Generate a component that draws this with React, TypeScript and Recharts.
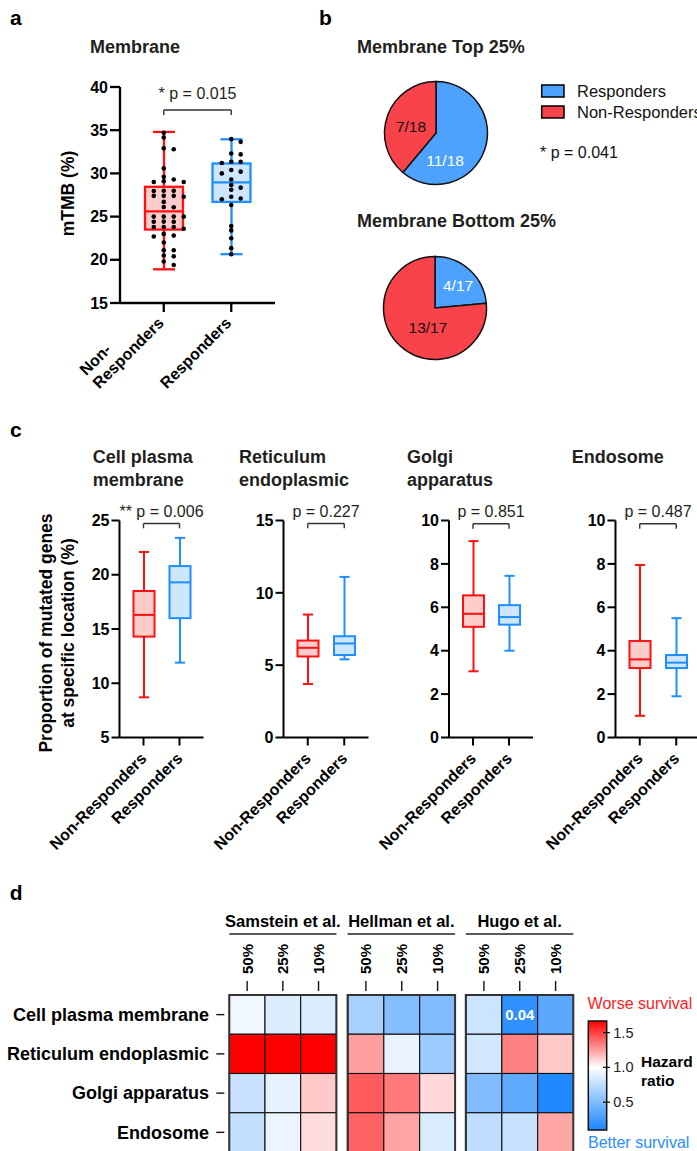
import React from 'react';
import {
  ComposedChart,
  Bar,
  Scatter,
  ScatterChart,
  XAxis,
  YAxis,
  ReferenceLine,
  PieChart,
  Pie,
  Cell,
} from 'recharts';

const FONT = "'Liberation Sans', Arial, Helvetica, sans-serif";
const INK = '#231f20';
const RED = '#ff1111';
const RED_FILL = '#ffcccc';
const BLUE = '#1f8fff';
const BLUE_FILL = '#cfe6ff';
const PIE_RED = '#f9434a';
const PIE_BLUE = '#4da2ff';

const groups = ['Non-Responders', 'Responders'];

// a: membrane mTMB (%) per patient
const nonResponderMTMB = [
  34.7, 34.16, 32.8, 30.58, 29.3, 27.97, 27.4, 26.08, 25.0, 24.42, 23.8, 22.7, 22.0, 20.4, 19.8, 19.4,
  32.9, 29.6, 29.1, 28.0, 27.3, 26.1, 25.0, 24.4, 23.8, 22.8, 20.5,
  29.0, 28.0, 27.4, 26.7, 25.0, 24.4, 23.0, 25.0, 23.8, 29.0, 27.4, 23.6, 21.1, 21.1,
];
const responderMTMB = [
  33.97, 33.65, 32.3, 32.2, 31.35, 31.2, 31.35, 30.4, 30.2, 30.0, 29.3, 28.65, 28.35, 28.1,
  27.3, 27.1, 27.0, 26.35, 23.9, 23.4, 22.5, 21.35, 20.65,
];
const membraneBoxes = [
  { group: 'Non-Responders', min: 18.9, q1: 23.5, median: 25.6, q3: 28.45, max: 34.8 },
  { group: 'Responders', min: 20.65, q1: 26.7, median: 28.95, q3: 31.15, max: 33.95 },
];

// b: responders among membrane quartiles
const topQuartile = [
  { name: 'Responders', value: 11 },
  { name: 'Non-Responders', value: 7 },
];
const bottomQuartile = [
  { name: 'Responders', value: 4 },
  { name: 'Non-Responders', value: 13 },
];

// c: proportion of mutated genes at specific location (%)
const cellPlasmaBoxes = [
  { group: 'Non-Responders', min: 8.7, q1: 14.3, median: 16.3, q3: 18.5, max: 22.1 },
  { group: 'Responders', min: 11.9, q1: 16.0, median: 19.3, q3: 20.8, max: 23.4 },
];
const reticulumBoxes = [
  { group: 'Non-Responders', min: 3.7, q1: 5.6, median: 6.2, q3: 6.7, max: 8.5 },
  { group: 'Responders', min: 5.4, q1: 5.7, median: 6.5, q3: 7.0, max: 11.1 },
];
const golgiBoxes = [
  { group: 'Non-Responders', min: 3.05, q1: 5.1, median: 5.7, q3: 6.55, max: 9.05 },
  { group: 'Responders', min: 4.0, q1: 5.2, median: 5.55, q3: 6.1, max: 7.45 },
];
const endosomeBoxes = [
  { group: 'Non-Responders', min: 1.0, q1: 3.2, median: 3.6, q3: 4.45, max: 7.95 },
  { group: 'Responders', min: 1.9, q1: 3.2, median: 3.45, q3: 3.8, max: 5.5 },
];

// d: hazard ratios
const locations = ['Cell plasma membrane', 'Reticulum endoplasmic', 'Golgi apparatus', 'Endosome'];
const cutoffs = ['50%', '25%', '10%'];
const samsteinHR = [
  [0.95, 0.86, 0.86],
  [1.72, 1.69, 1.75],
  [0.78, 0.9, 1.14],
  [0.77, 0.92, 1.09],
];
const hellmanHR = [
  [0.66, 0.52, 0.5],
  [1.25, 0.91, 0.61],
  [1.43, 1.35, 1.1],
  [1.41, 1.24, 0.85],
];
const hugoHR = [
  [0.8, 0.18, 0.35],
  [0.82, 1.33, 1.14],
  [0.5, 0.37, 0.12],
  [0.75, 0.78, 1.23],
];
const hugoPValues = [{ location: 'Cell plasma membrane', cutoff: '25%', p: '0.04' }];

const HR_MIN = 0.1;
const HR_MAX = 1.667;
const HR_RED = [255, 0, 0];
const HR_BLUE = [26, 134, 255];

function hrColor(v: number) {
  const up = v >= 1;
  const t = up ? Math.min((v - 1) / (HR_MAX - 1), 1) : Math.min((1 - v) / (1 - HR_MIN), 1);
  const c = up ? HR_RED : HR_BLUE;
  return `rgb(${c.map((ch) => Math.round(255 + (ch - 255) * t)).join(',')})`;
}

// simple beeswarm: nearest free column
function swarm(values: number[], center: number, step: number, minGap: number) {
  const placed: { col: number; v: number }[] = [];
  const order = [0, 1, -1, 2, -2, 3, -3];
  return [...values]
    .sort((a, b) => b - a)
    .map((v) => {
      const col = order.find((c) => !placed.some((p) => p.col === c && Math.abs(p.v - v) < minGap)) ?? 0;
      placed.push({ col, v });
      return { x: center + col * step, y: v };
    });
}

const BOLD_W: Record<string, number> = { R: 0.722, e: 0.556, s: 0.556, p: 0.611, o: 0.611, n: 0.611, d: 0.611, r: 0.389 };
const boldWidth = (s: string, size: number) => s.split('').reduce((w, ch) => w + (BOLD_W[ch] ?? 0.6), 0) * size;

const RotTick = (props: any) => {
  const { x, y, payload, offX, offY, split } = props;
  const label = String(payload.value);
  const fs = 16;
  const st = { fontFamily: FONT, fontSize: fs, fontWeight: 700, fill: '#000' };
  const cut = split ? label.indexOf('-') : -1;
  return (
    <g transform={`translate(${x + offX},${y + offY}) rotate(-45)`}>
      {cut < 0 ? (
        <text textAnchor="end" {...st}>{label}</text>
      ) : (
        <>
          <text x={-boldWidth(label.slice(cut + 1), fs)} y={-18.4} textAnchor="start" {...st}>
            {label.slice(0, cut + 1)}
          </text>
          <text textAnchor="end" {...st}>{label.slice(cut + 1)}</text>
        </>
      )}
    </g>
  );
};

const boxShape = (capRatio: number, sw: number) => (props: any) => {
  const { x, y, width, height, payload } = props;
  if (!payload) return null;
  const { min, q1, median, q3, max } = payload;
  const top = Math.min(y, y + height);
  const span = Math.abs(height);
  const py = (v: number) => top + ((max - v) / (max - min)) * span;
  const resp = payload.group === 'Responders';
  const stroke = resp ? BLUE : RED;
  const fill = resp ? BLUE_FILL : RED_FILL;
  const cx = x + width / 2;
  const half = (width * capRatio) / 2;
  return (
    <g>
      <line x1={cx} x2={cx} y1={py(max)} y2={py(q3)} stroke={stroke} strokeWidth={sw} />
      <line x1={cx} x2={cx} y1={py(q1)} y2={py(min)} stroke={stroke} strokeWidth={sw} />
      <line x1={cx - half} x2={cx + half} y1={py(max)} y2={py(max)} stroke={stroke} strokeWidth={sw} />
      <line x1={cx - half} x2={cx + half} y1={py(min)} y2={py(min)} stroke={stroke} strokeWidth={sw} />
      <rect x={x} y={py(q3)} width={width} height={py(q1) - py(q3)} fill={fill} stroke={stroke} strokeWidth={sw} />
      <line x1={x} x2={x + width} y1={py(median)} y2={py(median)} stroke={stroke} strokeWidth={sw} />
    </g>
  );
};

const Dot = (p: any) => <circle cx={p.cx} cy={p.cy} r={2.3} fill="#000" />;

const BoxChart = (props: any) => {
  const {
    left, top, width, height, marginTop, yAxisWidth, xAxisHeight, data, domain, ticks,
    barSize, capRatio, sw, xPad, bracket, dots, split, offX, offY, ytick, xtick,
  } = props;
  const axis = { stroke: '#000', strokeWidth: sw };
  const bStroke = { stroke: '#333', strokeWidth: 1.4 };
  return (
    <div style={{ position: 'absolute', left, top }}>
      <ComposedChart width={width} height={height} data={data} margin={{ top: marginTop, right: 0, bottom: 0, left: 0 }}>
        <XAxis
          dataKey="group"
          type="category"
          padding={{ left: xPad, right: xPad }}
          height={xAxisHeight}
          axisLine={axis}
          tickLine={axis}
          tickSize={xtick}
          interval={0}
          tick={(p: any) => <RotTick {...p} offX={offX} offY={offY} split={split} />}
        />
        {dots && <XAxis xAxisId="jit" type="number" dataKey="x" domain={[0, 2]} padding={{ left: xPad, right: xPad }} hide />}
        <YAxis
          type="number"
          domain={domain}
          ticks={ticks}
          width={yAxisWidth}
          axisLine={axis}
          tickLine={axis}
          tickSize={ytick}
          tickMargin={2}
          interval={0}
          tick={{ fill: '#000', fontSize: 16, fontWeight: 700, fontFamily: FONT }}
        />
        <Bar dataKey={(d: any) => [d.min, d.max]} barSize={barSize} shape={boxShape(capRatio, sw)} isAnimationActive={false} />
        {dots && <Scatter xAxisId="jit" data={dots} dataKey="y" shape={Dot} isAnimationActive={false} />}
        <ReferenceLine
          segment={[{ x: groups[0], y: bracket.y }, { x: groups[1], y: bracket.y }]}
          {...bStroke}
          label={{ value: bracket.text, position: 'top', offset: bracket.offset, fill: INK, fontSize: 16, fontFamily: FONT }}
        />
        <ReferenceLine segment={[{ x: groups[0], y: bracket.y }, { x: groups[0], y: bracket.leg }]} {...bStroke} />
        <ReferenceLine segment={[{ x: groups[1], y: bracket.y }, { x: groups[1], y: bracket.leg }]} {...bStroke} />
      </ComposedChart>
    </div>
  );
};

const PieBlock = ({ left, top, data, placement }: any) => {
  const total = data.reduce((s: number, d: any) => s + d.value, 0);
  const renderLabel = (p: any) => {
    const { cx, cy, outerRadius, index, value } = p;
    const { angle, r } = placement[index];
    const rad = (angle * Math.PI) / 180;
    return (
      <text
        x={cx + outerRadius * r * Math.cos(rad)}
        y={cy - outerRadius * r * Math.sin(rad)}
        textAnchor="middle"
        dominantBaseline="central"
        fill={data[index].name === 'Responders' ? '#fff' : '#111'}
        fontFamily={FONT}
        fontSize={15.5}
      >
        {`${value}/${total}`}
      </text>
    );
  };
  return (
    <div style={{ position: 'absolute', left, top }}>
      <PieChart width={112} height={112} margin={{ top: 0, right: 0, bottom: 0, left: 0 }}>
        <Pie
          data={data}
          dataKey="value"
          nameKey="name"
          cx="50%"
          cy="50%"
          outerRadius={51.5}
          startAngle={90}
          endAngle={-270}
          stroke="#111"
          strokeWidth={1.5}
          labelLine={false}
          label={renderLabel}
          isAnimationActive={false}
        >
          {data.map((d: any) => (
            <Cell key={d.name} fill={d.name === 'Responders' ? PIE_BLUE : PIE_RED} />
          ))}
        </Pie>
      </PieChart>
    </div>
  );
};

const HEAT_TOP = 890;
const HEAT_AXIS_H = 105;
const HEAT_PLOT_H = 157;
const heatGroups = [
  { title: 'Samstein et al.', values: samsteinHR, notes: [], left: 0, axisW: 229.3, plotW: 107.1 },
  { title: 'Hellman et al.', values: hellmanHR, notes: [], left: 347.6, axisW: 0, plotW: 107.5 },
  { title: 'Hugo et al.', values: hugoHR, notes: hugoPValues, left: 465.8, axisW: 0, plotW: 107.5 },
];

const HeatColTick = (p: any) => {
  const { x, y, payload } = p;
  const label = cutoffs[Math.floor(payload.value)];
  return (
    <g>
      <line x1={x} x2={x} y1={y - 4} y2={y - 14} stroke="#111" strokeWidth={1.4} />
      <text transform={`translate(${x + 5.5},${y - 21}) rotate(-90)`} textAnchor="start" fontFamily={FONT} fontSize={15} fontWeight={700} fill="#000">
        {label}
      </text>
    </g>
  );
};

const HeatRowTick = (p: any) => {
  const { x, y, payload } = p;
  const label = locations[Math.floor(payload.value)];
  return (
    <g>
      <line x1={x - 13} x2={x - 5} y1={y} y2={y} stroke="#111" strokeWidth={1.4} />
      <text x={x - 20.4} y={y} dy="0.35em" textAnchor="end" fontFamily={FONT} fontSize={18} fontWeight={700} fill="#000">
        {label}
      </text>
    </g>
  );
};

const HeatGroup = ({ g }: any) => {
  const data = locations.flatMap((loc, r) =>
    cutoffs.map((cut, c) => ({
      col: c + 0.5,
      row: r + 0.5,
      hr: g.values[r][c],
      note: g.notes.find((n: any) => n.location === loc && n.cutoff === cut)?.p,
    })),
  );
  const w = g.plotW / 3;
  const h = HEAT_PLOT_H / 4;
  const shape = (p: any) => (
    <g>
      <rect x={p.cx - w / 2} y={p.cy - h / 2} width={w} height={h} fill={hrColor(p.payload.hr)} stroke="#111" strokeWidth={1.1} />
      {p.payload.note && (
        <text x={p.cx} y={p.cy} dy="0.35em" textAnchor="middle" fill="#fff" fontFamily={FONT} fontSize={15} fontWeight={700}>
          {p.payload.note}
        </text>
      )}
    </g>
  );
  return (
    <div style={{ position: 'absolute', left: g.left, top: HEAT_TOP }}>
      <ScatterChart width={g.axisW + g.plotW} height={HEAT_AXIS_H + HEAT_PLOT_H} margin={{ top: 0, right: 0, bottom: 0, left: 0 }}>
        <XAxis
          dataKey="col"
          type="number"
          domain={[0, 3]}
          ticks={[0.5, 1.5, 2.5]}
          orientation="top"
          height={HEAT_AXIS_H}
          axisLine={false}
          tickLine={false}
          tickSize={0}
          tickMargin={0}
          interval={0}
          tick={<HeatColTick />}
        />
        <YAxis
          dataKey="row"
          type="number"
          domain={[0, 4]}
          ticks={[0.5, 1.5, 2.5, 3.5]}
          reversed
          hide={g.axisW === 0}
          width={g.axisW}
          axisLine={false}
          tickLine={false}
          tickSize={0}
          tickMargin={0}
          interval={0}
          tick={<HeatRowTick />}
        />
        <Scatter data={data} shape={shape} isAnimationActive={false} />
      </ScatterChart>
    </div>
  );
};

const Overlay = () => {
  const bold = { fontFamily: FONT, fontWeight: 700 };
  const reg = { fontFamily: FONT };
  const cbTop = 1021;
  const cbH = 109;
  const cbY = (v: number) => cbTop + ((HR_MAX - v) / (HR_MAX - HR_MIN)) * cbH;
  const whiteAt = (HR_MAX - 1) / (HR_MAX - HR_MIN);
  return (
    <svg width={697} height={1151} style={{ position: 'absolute', left: 0, top: 0, pointerEvents: 'none' }}>
      <defs>
        <linearGradient id="hrGrad" x1="0" y1="0" x2="0" y2="1">
          <stop offset="0" stopColor={hrColor(HR_MAX)} />
          <stop offset={whiteAt} stopColor="#fff" />
          <stop offset="1" stopColor={hrColor(HR_MIN)} />
        </linearGradient>
      </defs>
      {/* panel letters */}
      <text x={10} y={25} fontSize={21} {...bold}>a</text>
      <text x={319} y={25} fontSize={21} {...bold}>b</text>
      <text x={10} y={437} fontSize={21} {...bold}>c</text>
      <text x={9.8} y={900} fontSize={21} {...bold}>d</text>

      {/* a */}
      <text x={90} y={53} fontSize={18} fill={INK} {...bold}>Membrane</text>
      <text transform="translate(73.5,193.5) rotate(-90)" textAnchor="middle" fontSize={17.5} {...bold}>mTMB (%)</text>

      {/* b */}
      <text x={357} y={53} fontSize={18} fill={INK} {...bold}>Membrane Top 25%</text>
      <text x={357} y={227} fontSize={18} fill={INK} {...bold}>Membrane Bottom 25%</text>
      <rect x={541.7} y={85} width={22.3} height={12} fill={PIE_BLUE} stroke="#000" strokeWidth={1.5} />
      <rect x={541.7} y={106} width={22.3} height={12} fill={PIE_RED} stroke="#000" strokeWidth={1.5} />
      <text x={577} y={97} fontSize={16.5} fill="#111" {...reg}>Responders</text>
      <text x={577} y={118} fontSize={16.5} fill="#111" {...reg}>Non-Responders</text>
      <text x={540} y={158} fontSize={16} fill="#111" {...reg}>* p = 0.041</text>

      {/* c titles */}
      <text fontSize={18} fill={INK} {...bold}>
        <tspan x={92.7} y={463}>Cell plasma</tspan>
        <tspan x={92.7} y={486}>membrane</tspan>
      </text>
      <text fontSize={18} fill={INK} {...bold}>
        <tspan x={239} y={463}>Reticulum</tspan>
        <tspan x={239} y={486}>endoplasmic</tspan>
      </text>
      <text fontSize={18} fill={INK} {...bold}>
        <tspan x={407} y={463}>Golgi</tspan>
        <tspan x={407} y={486}>apparatus</tspan>
      </text>
      <text x={571.7} y={463} fontSize={18} fill={INK} {...bold}>Endosome</text>
      <g transform="translate(0,633) rotate(-90)">
        <text x={0} y={52} textAnchor="middle" fontSize={17.5} {...bold}>Proportion of mutated genes</text>
        <text x={0} y={74} textAnchor="middle" fontSize={17.5} {...bold}>at specific location (%)</text>
      </g>

      {/* d headers and group frames */}
      {heatGroups.map((g) => {
        const x0 = g.left + g.axisW;
        return (
          <g key={g.title}>
            <text x={x0 + g.plotW / 2} y={927} textAnchor="middle" fontSize={16.5} {...bold}>{g.title}</text>
            <line x1={x0} x2={x0 + g.plotW} y1={934} y2={934} stroke="#222" strokeWidth={1.6} />
            <rect x={x0} y={HEAT_TOP + HEAT_AXIS_H} width={g.plotW} height={HEAT_PLOT_H} fill="none" stroke="#333" strokeWidth={2} />
          </g>
        );
      })}

      {/* colour bar */}
      <text x={587.6} y={1009} fontSize={16} fill="#ff1a1a" {...reg}>Worse survival</text>
      <rect x={588.3} y={cbTop} width={18.4} height={cbH} fill="url(#hrGrad)" stroke="#111" strokeWidth={1.5} />
      {[1.5, 1.0, 0.5].map((v) => (
        <g key={v}>
          <line x1={603} x2={610} y1={cbY(v)} y2={cbY(v)} stroke="#111" strokeWidth={1.3} />
          <text x={613.3} y={cbY(v) + 5} fontSize={14.5} fill="#222" {...reg}>{v.toFixed(1)}</text>
        </g>
      ))}
      <text fontSize={15.5} {...bold}>
        <tspan x={641} y={1067}>Hazard</tspan>
        <tspan x={641} y={1086}>ratio</tspan>
      </text>
      <text x={588} y={1148} fontSize={16} fill="#2b8cff" {...reg}>Better survival</text>
    </svg>
  );
};

const panelC = [
  { left: 0, yAxisWidth: 119.5, plotW: 84, data: cellPlasmaBoxes, domain: [5, 25], ticks: [5, 10, 15, 20, 25], bracket: { y: 24.72, leg: 24.28, text: '** p = 0.006', offset: 7 } },
  { left: 200, yAxisWidth: 83.5, plotW: 85, data: reticulumBoxes, domain: [0, 15], ticks: [0, 5, 10, 15], bracket: { y: 14.79, leg: 14.46, text: 'p = 0.227', offset: 7 } },
  { left: 370, yAxisWidth: 79, plotW: 84, data: golgiBoxes, domain: [0, 10], ticks: [0, 2, 4, 6, 8, 10], bracket: { y: 9.85, leg: 9.62, text: 'p = 0.851', offset: 7 } },
  { left: 535, yAxisWidth: 80.5, plotW: 85, data: endosomeBoxes, domain: [0, 10], ticks: [0, 2, 4, 6, 8, 10], bracket: { y: 9.85, leg: 9.62, text: 'p = 0.487', offset: 7 } },
];

export default function App() {
  const dots = [
    ...swarm(nonResponderMTMB, 0.5, 0.148, 0.5),
    ...swarm(responderMTMB, 1.5, 0.14, 0.5),
  ];
  return (
    <div style={{ position: 'absolute', left: 0, top: 0, width: 697, height: 1151, overflow: 'hidden', background: '#fff', fontFamily: FONT }}>
      <BoxChart
        left={0} top={60} width={275} height={420} marginTop={27}
        yAxisWidth={120} xAxisHeight={177}
        data={membraneBoxes} domain={[15, 40]} ticks={[15, 20, 25, 30, 35, 40]}
        barSize={38} capRatio={0.58} sw={2.3} xPad={10} xtick={9} ytick={10}
        bracket={{ y: 37.34, leg: 36.76, text: '* p = 0.015', offset: 11 }}
        dots={dots} split offX={1} offY={10}
      />
      <PieBlock left={380} top={77} data={topQuartile} placement={[{ angle: -71.6, r: 0.56 }, { angle: 166.5, r: 0.5 }]} />
      <PieBlock left={379} top={252} data={bottomQuartile} placement={[{ angle: 43.7, r: 0.62 }, { angle: -110, r: 0.4 }]} />
      {panelC.map((c) => (
        <BoxChart
          key={c.bracket.text}
          left={c.left} top={480} width={c.yAxisWidth + c.plotW} height={400} marginTop={40.5}
          yAxisWidth={c.yAxisWidth} xAxisHeight={142.5}
          data={c.data} domain={c.domain} ticks={c.ticks}
          barSize={21} capRatio={0.48} sw={2} xPad={6} xtick={8} ytick={8}
          bracket={c.bracket} split={false} offX={4} offY={12}
        />
      ))}
      {heatGroups.map((g) => (
        <HeatGroup key={g.title} g={g} />
      ))}
      <Overlay />
    </div>
  );
}
